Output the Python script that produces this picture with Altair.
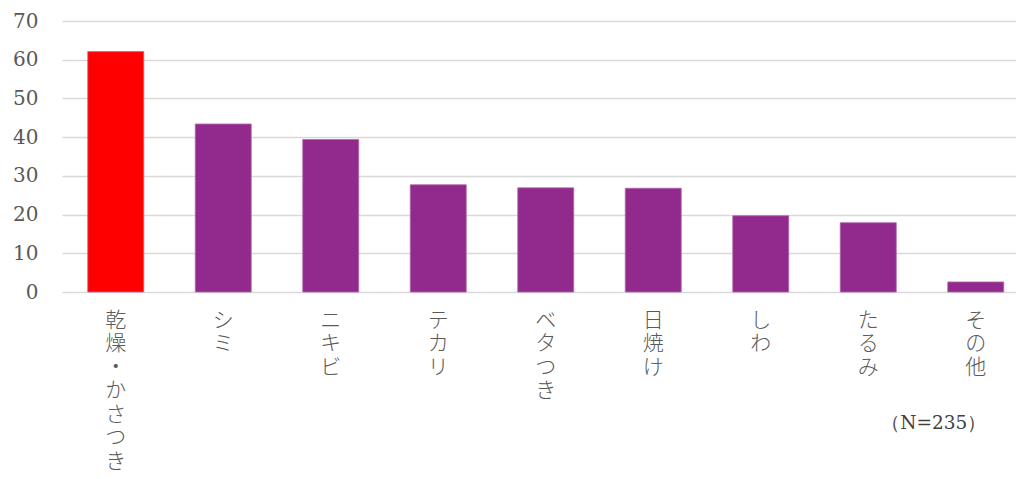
import altair as alt
import pandas as pd

categories = ["乾燥・かさつき", "シミ", "ニキビ", "テカリ", "ベタつき", "日焼け", "しわ", "たるみ", "その他"]
values = [62.1, 43.4, 39.4, 27.7, 26.9, 26.8, 19.7, 17.9, 2.6]
bar_colors = ["#FF0000", "#912A8C", "#912A8C", "#912A8C", "#912A8C", "#912A8C", "#912A8C", "#912A8C", "#912A8C"]
y_ticks = [0, 10, 20, 30, 40, 50, 60, 70]
note_text = "（N=235）"

df = pd.DataFrame({"category": categories, "value": values})

x_enc = alt.X(
    "category:N",
    sort=categories,
    scale=alt.Scale(range=[0, 967.5], paddingInner=0.479, paddingOuter=0.2395),
    axis=alt.Axis(
        title=None,
        labelAngle=0,
        labelExpr="split(datum.label, '')",
        labelFont="Noto Sans CJK JP",
        labelFontWeight=300,
        labelFontSize=21,
        labelLineHeight=23.5,
        labelColor="#5A5A5A",
        labelBaseline="top",
        labelPadding=17,
        labelLimit=0,
        ticks=False,
        domain=False,
        grid=False,
    ),
)

bars = alt.Chart(df).mark_bar(stroke="#B268AD", strokeWidth=0.8).encode(
    x=x_enc,
    y=alt.Y(
        "value:Q",
        scale=alt.Scale(domain=[0, 70], nice=False),
        axis=alt.Axis(
            title=None,
            values=y_ticks,
            labelFont="DejaVu Serif",
            labelFontSize=20,
            labelColor="#595959",
            labelPadding=24,
            ticks=False,
            domain=False,
            grid=True,
            gridColor="#D9D9D9",
            gridWidth=1.4,
        ),
    ),
    color=alt.Color("category:N", scale=alt.Scale(domain=categories, range=bar_colors), legend=None),
)

note_df = pd.DataFrame({"category": ["その他"], "label": [note_text]})
note = alt.Chart(note_df).mark_text(
    font="DejaVu Serif", fontSize=18.5, color="#404040", align="center", baseline="middle", dx=-42
).encode(
    x=alt.X("category:N", sort=categories),
    y=alt.value(402),
    text="label:N",
)

chart = (
    alt.layer(bars, note)
    .properties(
        width=954,
        height=271,
        padding={"left": 54, "top": 13, "right": 0, "bottom": 179},
        autosize=alt.AutoSizeParams(type="none"),
    )
    .configure_view(stroke=None)
)

chart.save("out.html", embed_options={"renderer": "svg", "actions": False})
